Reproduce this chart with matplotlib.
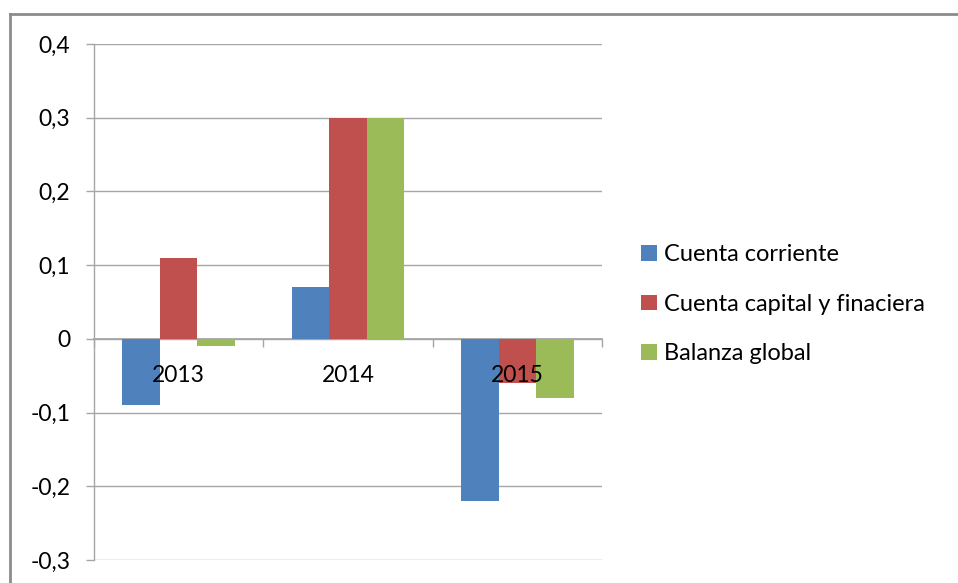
import matplotlib
matplotlib.use("Agg")
import matplotlib.pyplot as plt
import numpy as np
from matplotlib.lines import Line2D
from matplotlib.patches import Patch

categories = ["2013", "2014", "2015"]
series_names = ["Cuenta corriente", "Cuenta capital y finaciera", "Balanza global"]
cuenta_corriente = [-0.09, 0.07, -0.22]
cuenta_capital = [0.11, 0.30, -0.06]
balanza_global = [-0.01, 0.30, -0.08]
yticks = [-0.3, -0.2, -0.1, 0.0, 0.1, 0.2, 0.3, 0.4]
ytick_labels = ["-0,3", "-0,2", "-0,1", "0", "0,1", "0,2", "0,3", "0,4"]

colors = ["#4F81BD", "#C0504D", "#9BBB59"]
FONT = "Lato"
plt.rcParams['font.family'] = [FONT, 'DejaVu Sans']
FS_TICK = 16.5
FS_LEG = 17

W, H = 958, 583
fig = plt.figure(figsize=(W / 100, H / 100), dpi=100)
ax = fig.add_axes([94 / W, 1 - 560 / H, (602 - 94) / W, (560 - 44) / H])

x = np.arange(len(categories))
bw = 1 / 4.5
for i, (vals, name) in enumerate(zip([cuenta_corriente, cuenta_capital, balanza_global], series_names)):
    ax.bar(x + (i - 1) * bw, vals, width=bw, color=colors[i], label=name, zorder=3)

ax.set_xlim(-0.5, len(categories) - 0.5)
ax.set_ylim(-0.3, 0.4)
ax.set_yticks(yticks)
ax.set_yticklabels(ytick_labels, fontsize=FS_TICK, color="#000000")
ax.tick_params(axis='y', length=6, width=1, color="#A6A6A6", pad=11)
ax.yaxis.grid(True, color="#A6A6A6", linewidth=1, zorder=0)
ax.set_axisbelow(True)

for s in ["top", "right"]:
    ax.spines[s].set_visible(False)
ax.spines["left"].set_color("#A6A6A6")
ax.spines["left"].set_linewidth(1)
ax.spines["bottom"].set_position(("data", 0))
ax.spines["bottom"].set_color("#A6A6A6")
ax.spines["bottom"].set_linewidth(1.3)

ax.set_xticks(x)
ax.set_xticklabels([])
ax.tick_params(axis='x', which='major', length=0)
ax.set_xticks(np.arange(len(categories) + 1) - 0.5, minor=True)
ax.tick_params(axis='x', which='minor', length=6, width=1, color="#A6A6A6")

# category labels drawn on top of the bars, just below the zero axis
for xi, cat in zip(x, categories):
    ax.annotate(cat, (xi, 0), xytext=(0, -37), textcoords='offset pixels',
                ha='center', va='center', fontsize=FS_TICK, color="#000000",
                zorder=6, annotation_clip=False)

handles = [Patch(facecolor=c, edgecolor='none') for c in colors]
leg = fig.legend(handles, series_names, loc="upper left",
                 bbox_to_anchor=(632 / W, 1 - 235 / H), frameon=False,
                 fontsize=FS_LEG, handlelength=0.65, handleheight=0.65,
                 handletextpad=0.3, labelspacing=1.2, borderaxespad=0)

# outer chart border (top and left visible)
fig.add_artist(Line2D([10 / W, 1.0], [1 - 14 / H, 1 - 14 / H], transform=fig.transFigure,
                      color="#8C8C8C", linewidth=2))
fig.add_artist(Line2D([10 / W, 10 / W], [1 - 14 / H, 0.0], transform=fig.transFigure,
                      color="#8C8C8C", linewidth=2))

fig.savefig("out.png", dpi=100)
